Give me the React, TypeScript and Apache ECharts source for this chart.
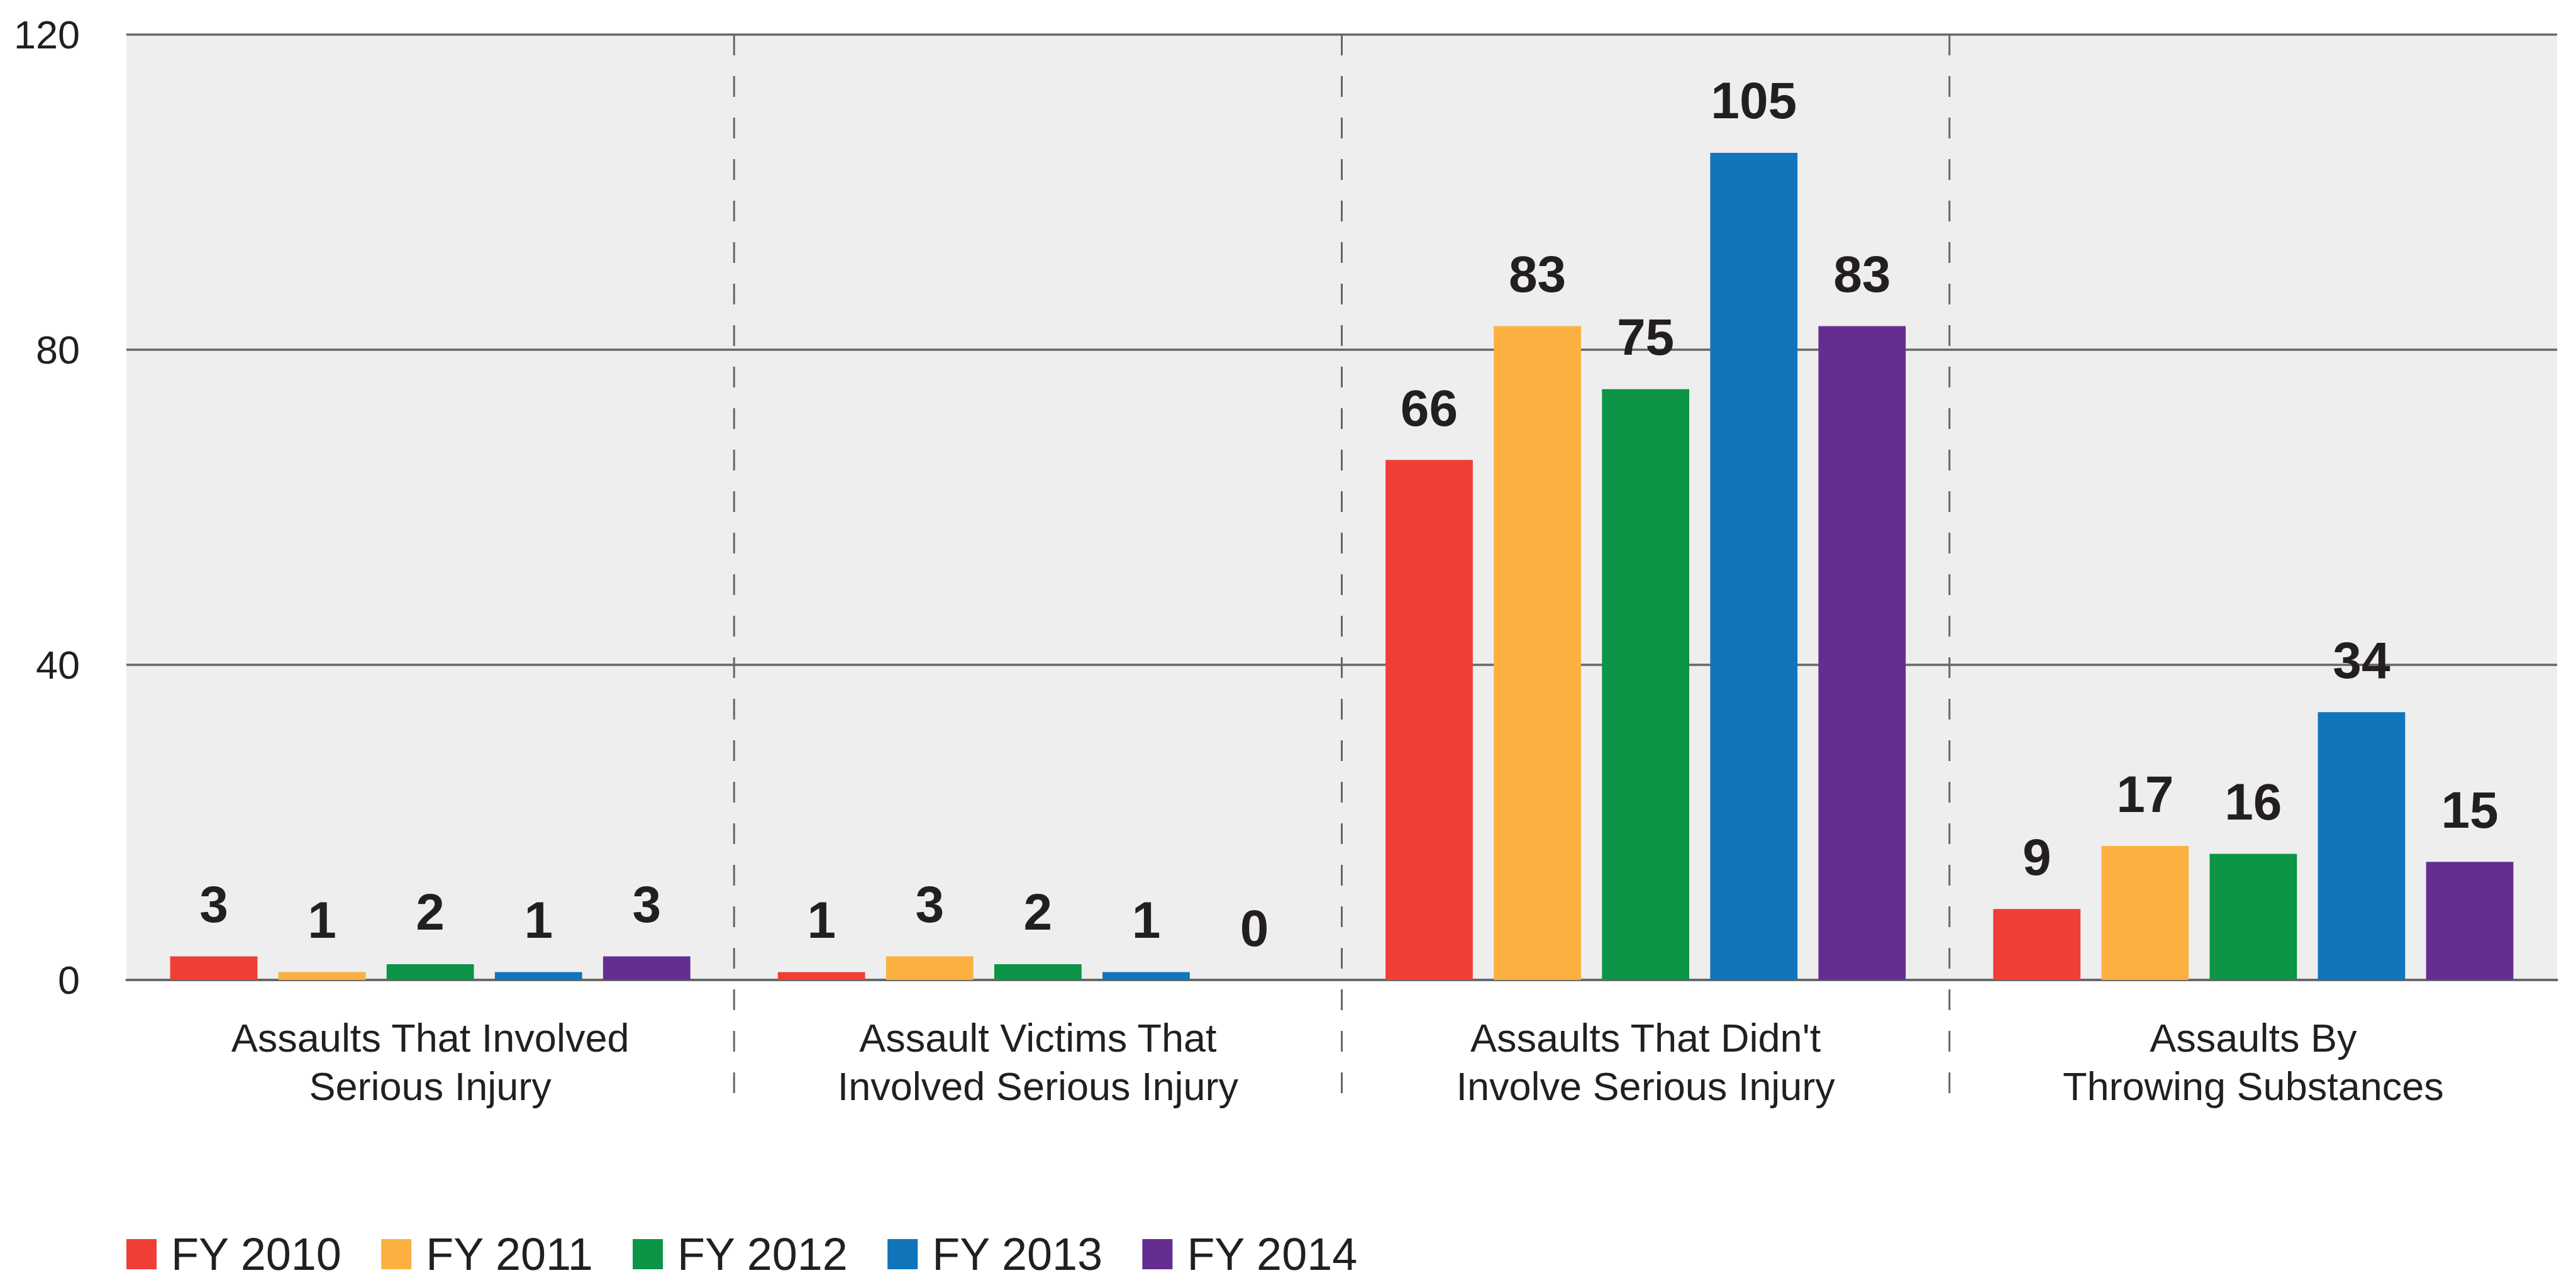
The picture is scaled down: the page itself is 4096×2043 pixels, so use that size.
import React, { useEffect, useRef } from "react";
import * as echarts from "echarts";

const categories = [
  "Assaults That Involved\nSerious Injury",
  "Assault Victims That\nInvolved Serious Injury",
  "Assaults That Didn't\nInvolve Serious Injury",
  "Assaults By\nThrowing Substances",
];
const seriesNames = ["FY 2010", "FY 2011", "FY 2012", "FY 2013", "FY 2014"];
const fy2010 = [3, 1, 66, 9];
const fy2011 = [1, 3, 83, 17];
const fy2012 = [2, 2, 75, 16];
const fy2013 = [1, 1, 105, 34];
const fy2014 = [3, 0, 83, 15];
const seriesValues = [fy2010, fy2011, fy2012, fy2013, fy2014];
const colors = ["#EF3E36", "#FBB040", "#0C9447", "#1175BB", "#662D91"];
// separators sit at the left boundary of these category indices
const separatorIndex = [1, 2, 3];
const yMin = 0;
const yMax = 120;
const yInterval = 40;

const FONT = "'Liberation Sans', Arial, Helvetica, sans-serif";
const TEXT = "#231F20";
const LINE = "#666666";

export default function App() {
  const ref = useRef<HTMLDivElement>(null);

  useEffect(() => {
    if (!ref.current) return;
    const chart = echarts.init(ref.current, null, { renderer: "svg" });

    const bars = seriesNames.map((name, i) => ({
      name,
      type: "bar",
      data: seriesValues[i],
      itemStyle: { color: colors[i] },
      barCategoryGap: "14.4%",
      barGap: "24%",
      label: {
        show: true,
        position: "top",
        distance: 42,
        fontFamily: FONT,
        fontWeight: "bold",
        fontSize: 82,
        color: TEXT,
      },
      z: 3,
    }));

    const separators = {
      type: "custom",
      name: "sep",
      data: separatorIndex.map((c) => [c, yMax]),
      clip: false,
      silent: true,
      z: 2,
      encode: { x: 0, y: 1 },
      renderItem: (params: any, api: any) => {
        const idx = api.value(0);
        const top = api.coord([idx, yMax]);
        const bot = api.coord([idx, yMin]);
        const half = api.size([1, 0])[0] / 2;
        const x = top[0] - half;
        return {
          type: "line",
          shape: { x1: x, y1: top[1], x2: x, y2: bot[1] + 180 },
          style: { stroke: LINE, lineWidth: 3, lineDash: [33, 33] },
        };
      },
    };

    chart.setOption({
      animation: false,
      backgroundColor: "#FFFFFF",
      grid: {
        left: 201,
        right: 30,
        top: 55,
        bottom: 485,
        show: true,
        backgroundColor: "#EEEEEE",
        borderWidth: 0,
      },
      legend: {
        data: seriesNames,
        left: 201,
        top: 1958,
        padding: 0,
        icon: "rect",
        itemWidth: 48,
        itemHeight: 48,
        itemGap: 62,
        textStyle: {
          fontFamily: FONT,
          fontSize: 72,
          lineHeight: 72,
          color: TEXT,
          padding: [0, 0, 0, 18],
        },
      },
      xAxis: {
        type: "category",
        data: categories,
        axisLine: { show: true, lineStyle: { color: LINE, width: 3.5 } },
        axisTick: { show: false },
        splitLine: { show: false },
        axisLabel: {
          interval: 0,
          margin: 53,
          fontFamily: FONT,
          fontSize: 63,
          lineHeight: 77,
          color: TEXT,
        },
      },
      yAxis: {
        type: "value",
        min: yMin,
        max: yMax,
        interval: yInterval,
        axisLine: { show: false },
        axisTick: { show: false },
        splitLine: { show: true, lineStyle: { color: LINE, width: 3.5 } },
        axisLabel: {
          margin: 74,
          fontFamily: FONT,
          fontSize: 63,
          color: TEXT,
        },
      },
      series: [...bars, separators],
    });

    return () => chart.dispose();
  }, []);

  return (
    <div
      ref={ref}
      style={{ position: "fixed", left: 0, top: 0, width: 4096, height: 2043 }}
    />
  );
}
